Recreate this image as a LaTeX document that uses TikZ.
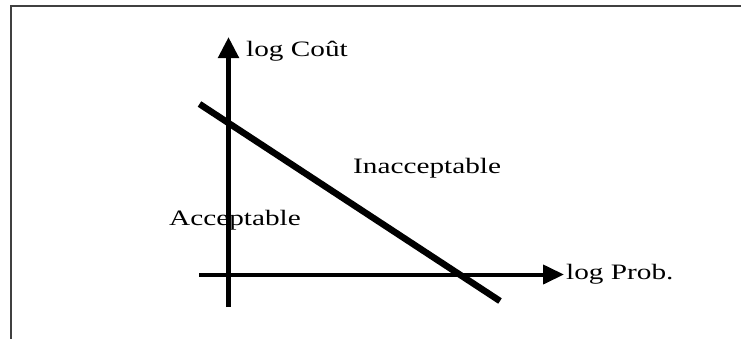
\documentclass[tikz,border=0pt]{standalone}
\usepackage{fontspec}
\setmainfont{Liberation Serif}
\usetikzlibrary{arrows.meta}
\tikzset{
  axis/.style={line width=4pt, -{Triangle[width=19pt,length=21pt]}},
  axisv/.style={line width=5pt, -{Triangle[width=20pt,length=21pt]}},
  border/.style={line width=2pt, draw=black!75},
  limit/.style={line width=6.5pt},
  lbl/.style={anchor=base west, inner sep=0pt, font=\fontsize{22}{24}\selectfont}
}
\newcommand{\wide}[1]{\scalebox{1.33}[1]{#1}}
\begin{document}
\begin{tikzpicture}[x=1pt,y=-1pt]
\useasboundingbox (0,0) rectangle (741,338);
\fill[white] (0,0) rectangle (741,338);
% frame
\coordinate (fb) at (11,345);
\coordinate (fr) at (750,6);
\draw[border] (fb) |- (fr);
% axes
\coordinate (yb) at (228.5,307);
\coordinate (yt) at (228.5,37);
\coordinate (xl) at (199,274.5);
\coordinate (xr) at (564,274.5);
\draw[axisv] (yb) -- (yt);
\draw[axis] (xl) -- (xr);
% limit line
\coordinate (la) at (199.5,104);
\coordinate (lb) at (500,301);
\draw[limit] (la) -- (lb);
% labels
\node[lbl] (cout) at (246,56) {\wide{log Coût}};
\node[lbl] (prob) at (566,279) {\wide{log Prob.}};
\node[lbl] (inacc) at (353,173) {\wide{Inacceptable}};
\node[lbl] (acc) at (169,225) {\wide{Acceptable}};
\end{tikzpicture}
\end{document}
